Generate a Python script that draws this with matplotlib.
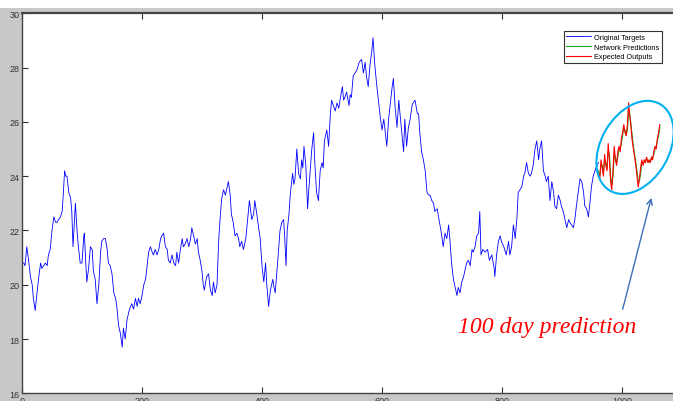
import numpy as np
import matplotlib
matplotlib.use("Agg")
import matplotlib.pyplot as plt
from matplotlib.patches import Ellipse, Rectangle
from matplotlib.transforms import Affine2D

## DATA

# original targets (day, price)
days = [0, 3, 5, 8, 11, 14, 17, 19, 22, 25, 28, 31, 33, 36, 39, 42, 44, 47, 50, 53,
        56, 58, 61, 64, 67, 69, 71, 73, 75, 78, 81, 83, 85, 87, 89, 92, 94, 97, 100, 103,
        104, 106, 108, 111, 114, 117, 119, 122, 125, 128, 131, 133, 136, 139, 142, 144, 147, 150, 153, 156,
        158, 161, 164, 167, 169, 172, 175, 178, 181, 183, 186, 189, 192, 194, 197, 200, 203, 206, 208, 211,
        214, 217, 219, 222, 225, 228, 231, 233, 236, 239, 242, 244, 247, 250, 253, 256, 258, 261, 264, 267,
        269, 272, 275, 278, 281, 283, 286, 289, 292, 294, 297, 300, 302, 304, 306, 308, 311, 314, 317, 319,
        322, 325, 328, 331, 333, 336, 339, 342, 344, 347, 349, 352, 355, 358, 361, 363, 366, 369, 373, 376,
        379, 383, 386, 388, 392, 395, 397, 400, 403, 406, 408, 411, 414, 418, 420, 422, 426, 430, 433, 436,
        438, 440, 442, 445, 447, 451, 453, 455, 458, 461, 464, 466, 468, 470, 473, 476, 478, 480, 483, 486,
        488, 491, 494, 497, 500, 502, 504, 508, 511, 514, 516, 519, 522, 525, 528, 530, 534, 536, 538, 541,
        545, 547, 549, 552, 555, 558, 562, 566, 569, 572, 574, 577, 580, 583, 585, 588, 591, 594, 597, 600,
        603, 606, 608, 611, 614, 617, 619, 622, 625, 628, 630, 633, 636, 638, 641, 644, 647, 650, 652, 655,
        659, 661, 663, 666, 669, 672, 675, 678, 680, 683, 686, 688, 692, 695, 699, 702, 705, 708, 711, 713,
        716, 719, 722, 725, 727, 730, 733, 736, 739, 741, 744, 747, 750, 752, 755, 758, 761, 763, 765, 768,
        772, 776, 779, 783, 787, 788, 791, 794, 797, 799, 803, 807, 811, 813, 816, 819, 822, 825, 827, 830,
        833, 836, 838, 841, 844, 847, 849, 852, 855, 858, 861, 863, 866, 869, 872, 874, 877, 880, 883, 886,
        888, 891, 894, 897, 899, 902, 905, 908, 911, 913, 916, 919, 922, 924, 927, 930, 933, 936, 938, 941,
        944, 947, 949, 952, 955, 958, 961]
targets = [20.8, 20.8, 20.7, 21.4, 20.9, 20.3, 20.0, 19.5, 19.05, 19.7, 20.3, 20.8, 20.6, 20.7, 20.8, 20.7, 21.1, 21.3, 22.0, 22.5,
           22.3, 22.3, 22.4, 22.5, 22.7, 23.4, 24.2, 24.0, 24.0, 23.4, 23.2, 22.7, 21.4, 22.2, 23.0, 21.9, 21.4, 20.8, 20.8, 21.8,
           21.9, 20.9, 20.1, 20.6, 21.4, 21.3, 20.5, 20.2, 19.3, 20.0, 21.2, 21.6, 21.7, 21.7, 21.3, 20.8, 20.7, 20.4, 19.7, 19.5,
           19.2, 18.5, 18.2, 17.7, 18.4, 18.0, 18.7, 19.0, 19.2, 19.3, 19.1, 19.5, 19.2, 19.5, 19.3, 19.6, 20.0, 20.2, 20.6, 21.2,
           21.4, 21.2, 21.1, 21.3, 21.1, 21.3, 21.7, 21.8, 21.9, 21.4, 21.3, 20.9, 20.8, 21.1, 20.8, 20.7, 21.2, 20.8, 21.3, 21.7,
           21.4, 21.5, 21.7, 21.4, 21.7, 22.1, 21.8, 21.5, 21.7, 21.2, 20.9, 20.5, 20.0, 19.8, 20.1, 20.3, 20.4, 19.8, 19.6, 20.1,
           19.7, 20.0, 21.7, 22.7, 23.2, 23.5, 23.3, 23.6, 23.8, 23.3, 22.6, 22.3, 21.8, 21.9, 21.7, 21.4, 21.6, 21.3, 21.7, 22.4,
           23.1, 22.4, 22.6, 23.1, 22.5, 22.0, 21.7, 20.7, 20.1, 20.8, 20.0, 19.2, 19.8, 20.2, 19.9, 19.7, 20.8, 22.0, 22.3, 22.4,
           21.7, 20.7, 22.0, 22.6, 23.3, 24.1, 23.7, 23.9, 25.0, 24.1, 23.9, 24.6, 24.3, 25.1, 24.4, 22.8, 23.5, 24.1, 25.0, 25.6,
           24.5, 23.4, 23.1, 24.2, 24.5, 24.3, 25.3, 25.7, 25.1, 26.3, 26.8, 26.6, 26.4, 26.7, 26.5, 26.8, 27.3, 26.8, 26.9, 27.1,
           26.6, 27.0, 26.9, 27.7, 27.8, 27.9, 28.2, 28.3, 27.8, 28.2, 27.7, 27.3, 28.1, 28.6, 29.1, 28.1, 27.4, 26.8, 26.2, 25.7,
           26.1, 25.5, 25.1, 26.1, 26.7, 27.3, 27.6, 26.5, 25.8, 26.8, 26.3, 25.6, 24.9, 26.1, 25.1, 25.8, 26.1, 26.6, 26.7, 26.8,
           26.3, 26.3, 25.6, 24.9, 24.6, 24.2, 23.4, 23.3, 23.3, 23.1, 23.0, 22.7, 22.8, 22.4, 21.9, 21.4, 21.9, 21.7, 22.2, 21.7,
           20.8, 20.2, 19.9, 19.6, 19.9, 19.7, 20.1, 20.3, 20.6, 20.8, 20.9, 20.7, 21.3, 21.2, 21.4, 21.8, 21.9, 22.7, 21.1, 21.3,
           21.2, 21.3, 20.9, 21.1, 20.6, 20.3, 21.1, 21.6, 21.8, 21.6, 21.4, 21.1, 21.6, 21.1, 21.4, 22.2, 21.7, 22.5, 23.4, 23.5,
           23.6, 24.0, 24.1, 24.5, 24.1, 24.0, 24.1, 24.4, 25.0, 25.3, 24.6, 25.0, 25.3, 24.2, 24.0, 23.8, 24.0, 23.1, 23.8, 23.4,
           22.9, 22.8, 23.3, 23.1, 22.9, 22.7, 22.4, 22.1, 22.4, 22.3, 22.2, 22.1, 22.5, 22.9, 23.4, 23.9, 23.8, 23.4, 22.9, 22.8,
           22.5, 23.1, 23.6, 24.0, 24.2, 24.4, 24.5]

# the 100 day window
pred_days = [961, 963, 965, 967, 969, 971, 973, 975, 977, 979, 981, 983, 985, 987, 989, 991, 993, 995, 997, 999,
             1001, 1003, 1005, 1007, 1009, 1011, 1013, 1015, 1017, 1019, 1021, 1023, 1025, 1027, 1029, 1031, 1033, 1035, 1037, 1039,
             1041, 1043, 1045, 1047, 1049, 1051, 1053, 1055, 1057, 1059, 1061, 1063]
expected = [24.1, 23.9, 24.6, 24.3, 24.0, 24.8, 24.4, 24.2, 25.2, 24.6, 23.8, 23.5, 24.2, 25.1, 24.6, 24.4, 24.9, 25.1, 24.9, 25.4,
            25.6, 25.9, 25.6, 25.5, 25.9, 26.7, 26.2, 25.8, 25.3, 25.0, 24.7, 24.4, 24.0, 23.6, 23.9, 24.3, 24.6, 24.4, 24.6, 24.5,
            24.7, 24.5, 24.6, 24.5, 24.7, 24.6, 24.9, 25.1, 25.0, 25.4, 25.6, 25.9]
predicted = [24.2, 24.0, 24.4, 24.4, 24.1, 24.6, 24.5, 24.3, 24.9, 24.8, 24.0, 23.7, 24.0, 24.8, 24.7, 24.5, 24.7, 25.0, 25.0, 25.2,
             25.5, 25.8, 25.7, 25.5, 25.7, 26.4, 26.3, 25.9, 25.5, 25.1, 24.8, 24.5, 24.2, 23.8, 23.8, 24.1, 24.5, 24.5, 24.5, 24.6,
             24.6, 24.6, 24.5, 24.6, 24.6, 24.7, 24.8, 25.0, 25.1, 25.3, 25.5, 25.8]

labels = ["Original Targets", "Network Predictions", "Expected Outputs"]
xticks = [0, 200, 400, 600, 800, 1000]
yticks = [16, 18, 20, 22, 24, 26, 28, 30]

## FIGURE

W, H = 673, 402
fig = plt.figure(figsize=(W / 100, H / 100), dpi=100, facecolor="#c8c8c8")
# white strip along the very top
fig.patches.append(Rectangle((0, 1 - 9 / H), 1, 9 / H, transform=fig.transFigure,
                             facecolor="white", edgecolor="none"))

# axes run past the right edge (picture is cropped there)
ax = fig.add_axes([22 / W, 7.7 / H, 660 / W, 380 / H])
ax.set_facecolor("white")

ax.plot(days, targets, color="#0000ff", lw=0.6, label=labels[0])
ax.plot(pred_days, predicted, color="#1fa81f", lw=0.8, label=labels[1])
ax.plot(pred_days, expected, color="#ff0000", lw=0.8, label=labels[2])

ax.set_xlim(0, 1100)
ax.set_ylim(16, 30)
ax.set_xticks(xticks)
ax.set_yticks(yticks)
ax.tick_params(direction="in", length=4, width=0.8, top=True, right=False,
               labelsize=6.5, colors="#333333", pad=2)
for lab in ax.get_xticklabels() + ax.get_yticklabels():
    lab.set_fontfamily("Liberation Sans")
for s in ["top", "bottom", "left"]:
    ax.spines[s].set_color("#444444")
    ax.spines[s].set_linewidth(1.0)
ax.spines["top"].set_linewidth(1.6)
ax.spines["right"].set_visible(False)

leg = ax.legend(loc="upper right", bbox_to_anchor=(0.969, 0.9526),
                prop={"family": "Liberation Sans", "size": 5.3},
                handlelength=3.3, handletextpad=0.4, borderpad=0.35,
                labelspacing=0.35, borderaxespad=0, fancybox=False,
                framealpha=1, edgecolor="#333333")
leg.get_frame().set_linewidth(0.8)

# annotation: ellipse round the prediction window, arrow and caption
cx, cy = ax.transData.transform((1021.7, 25.06))
ell = Ellipse((0, 0), 100, 68, angle=60, fill=False, edgecolor="#00b0f0", lw=1.5,
              transform=Affine2D().translate(cx, cy))
fig.patches.append(ell)

ax.annotate("", xy=(1050, 23.3), xytext=(1000, 19.0),
            arrowprops=dict(arrowstyle="->", color="#3d6fb6", lw=1.0))
ax.text(727, 18.25, "100 day prediction", color="#ff0000", fontsize=17,
        fontstyle="italic", fontfamily="Liberation Serif")

fig.savefig("out.png", dpi=100, facecolor=fig.get_facecolor())
